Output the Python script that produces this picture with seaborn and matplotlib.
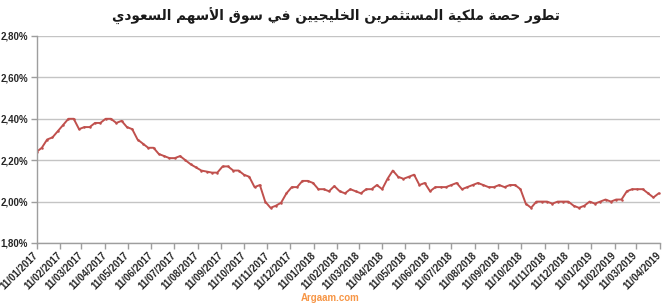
import numpy as np
import pandas as pd
import matplotlib
matplotlib.use("Agg")
import matplotlib.pyplot as plt
import matplotlib.ticker as mticker
import matplotlib.dates as mdates
import seaborn as sns

# ---------------- data ----------------
title_text = "تطور حصة ملكية المستثمرين الخليجيين في سوق الأسهم السعودي"
source_text = "Argaam.com"
start_date = "2017-01-11"
share_pct = [
    2.24, 2.26, 2.30, 2.31, 2.34, 2.37, 2.40, 2.40, 2.35, 2.36,
    2.36, 2.38, 2.38, 2.40, 2.40, 2.38, 2.39, 2.36, 2.35, 2.30,
    2.28, 2.26, 2.26, 2.23, 2.22, 2.21, 2.21, 2.22, 2.20, 2.18,
    2.165, 2.15, 2.145, 2.14, 2.14, 2.17, 2.17, 2.15, 2.15, 2.13,
    2.12, 2.07, 2.08, 2.00, 1.97, 1.98, 1.995, 2.04, 2.07, 2.07,
    2.10, 2.10, 2.09, 2.06, 2.06, 2.05, 2.075, 2.05, 2.04, 2.06,
    2.05, 2.04, 2.06, 2.06, 2.08, 2.06, 2.11, 2.15, 2.12, 2.11,
    2.12, 2.13, 2.08, 2.09, 2.05, 2.07, 2.07, 2.07, 2.08, 2.09,
    2.06, 2.07, 2.08, 2.09, 2.08, 2.07, 2.07, 2.08, 2.07, 2.08,
    2.08, 2.06, 1.99, 1.97, 2.00, 2.00, 2.00, 1.99, 2.00, 2.00,
    2.00, 1.98, 1.97, 1.98, 2.00, 1.99, 2.00, 2.01, 2.00, 2.01,
    2.01, 2.05, 2.06, 2.06, 2.06, 2.04, 2.02, 2.04,
]
tick_start = "2017-01-11"
n_ticks = 28
y_ticks = [1.80, 2.00, 2.20, 2.40, 2.60, 2.80]

# ---------------- Arabic shaping (presentation forms) ----------------
FORMS = {
    'ا': ('\uFE8D', '\uFE8E', None, None),
    'أ': ('\uFE83', '\uFE84', None, None),
    'ت': ('\uFE95', '\uFE96', '\uFE97', '\uFE98'),
    'ث': ('\uFE99', '\uFE9A', '\uFE9B', '\uFE9C'),
    'ج': ('\uFE9D', '\uFE9E', '\uFE9F', '\uFEA0'),
    'ح': ('\uFEA1', '\uFEA2', '\uFEA3', '\uFEA4'),
    'خ': ('\uFEA5', '\uFEA6', '\uFEA7', '\uFEA8'),
    'د': ('\uFEA9', '\uFEAA', None, None),
    'ر': ('\uFEAD', '\uFEAE', None, None),
    'س': ('\uFEB1', '\uFEB2', '\uFEB3', '\uFEB4'),
    'ص': ('\uFEB9', '\uFEBA', '\uFEBB', '\uFEBC'),
    'ط': ('\uFEC1', '\uFEC2', '\uFEC3', '\uFEC4'),
    'ع': ('\uFEC9', '\uFECA', '\uFECB', '\uFECC'),
    'ف': ('\uFED1', '\uFED2', '\uFED3', '\uFED4'),
    'ق': ('\uFED5', '\uFED6', '\uFED7', '\uFED8'),
    'ك': ('\uFED9', '\uFEDA', '\uFEDB', '\uFEDC'),
    'ل': ('\uFEDD', '\uFEDE', '\uFEDF', '\uFEE0'),
    'م': ('\uFEE1', '\uFEE2', '\uFEE3', '\uFEE4'),
    'ن': ('\uFEE5', '\uFEE6', '\uFEE7', '\uFEE8'),
    'ه': ('\uFEE9', '\uFEEA', '\uFEEB', '\uFEEC'),
    'و': ('\uFEED', '\uFEEE', None, None),
    'ي': ('\uFEF1', '\uFEF2', '\uFEF3', '\uFEF4'),
    'ة': ('\uFE93', '\uFE94', None, None),
}
LAM_ALEF = {'ا': ('\uFEFB', '\uFEFC'), 'أ': ('\uFEF7', '\uFEF8')}


def shape_word(word):
    units, i = [], 0
    while i < len(word):
        c = word[i]
        if c == 'ل' and i + 1 < len(word) and word[i + 1] in LAM_ALEF:
            units.append(('LA', word[i + 1]))
            i += 2
        else:
            units.append(c)
            i += 1
    out = []
    for k, u in enumerate(units):
        prev = units[k - 1] if k > 0 else None
        nxt = units[k + 1] if k + 1 < len(units) else None
        prev_joins = (prev is not None and not isinstance(prev, tuple)
                      and prev in FORMS and FORMS[prev][2] is not None)
        if isinstance(u, tuple):
            iso, fin = LAM_ALEF[u[1]]
            out.append(fin if prev_joins else iso)
            continue
        if u not in FORMS:
            out.append(u)
            continue
        f = FORMS[u]
        next_joins = f[2] is not None and nxt is not None
        if prev_joins and next_joins:
            out.append(f[3])
        elif prev_joins:
            out.append(f[1])
        elif next_joins:
            out.append(f[2])
        else:
            out.append(f[0])
    return ''.join(out)


def arabic_visual(text):
    shaped = ' '.join(shape_word(w) for w in text.split(' '))
    return shaped[::-1]


# ---------------- plot ----------------
dates = pd.date_range(start_date, periods=len(share_pct), freq="7D")
df = pd.DataFrame({"date": dates, "share": share_pct})
ticks = pd.date_range(tick_start, periods=n_ticks, freq=pd.DateOffset(months=1))

sns.set_theme(style="white")
plt.rcParams['font.family'] = ['Liberation Sans', 'DejaVu Sans']

fig = plt.figure(figsize=(6.65, 3.07), dpi=100)
ax = fig.add_axes([36.5 / 665, 1 - 243 / 307, (659.5 - 36.5) / 665, (243 - 36) / 307])

sns.lineplot(data=df, x="date", y="share", ax=ax, color="#C0504D",
             linewidth=1.4, marker="o", markersize=1.8, markeredgewidth=0)

ax.set_ylim(1.80, 2.80)
ax.set_yticks(y_ticks)
ax.yaxis.set_major_formatter(mticker.FuncFormatter(
    lambda v, p: f"{v:.2f}%".replace('.', ',')))
ax.set_xlim(ticks[0], ticks[-1])
ax.set_xticks(ticks)
ax.xaxis.set_major_formatter(mdates.DateFormatter('%d/%m/%Y'))

ax.grid(axis='y', color='#C4C4C4', linewidth=1.0)
ax.grid(axis='x', visible=False)
for s in ['top', 'right']:
    ax.spines[s].set_visible(False)
for s in ['left', 'bottom']:
    ax.spines[s].set_color('#9E9E9E')
    ax.spines[s].set_linewidth(1.0)

ax.tick_params(axis='x', which='major', direction='out', length=4, width=1,
               color='#9E9E9E', labelsize=7, labelcolor='#262626', pad=4,
               bottom=True)
ax.tick_params(axis='y', which='major', direction='out', length=4, width=1,
               color='#9E9E9E', labelsize=7, labelcolor='#262626', pad=2,
               left=True)
for lbl in ax.get_xticklabels():
    lbl.set_rotation(45)
    lbl.set_ha('right')
    lbl.set_va('center')
    lbl.set_rotation_mode('anchor')
    lbl.set_fontweight('bold')
for lbl in ax.get_yticklabels():
    lbl.set_fontweight('bold')

ax.set_xlabel("")
ax.set_ylabel("")

fig.text(0.505, 1 - 16 / 307, arabic_visual(title_text), ha='center', va='center',
         fontsize=9.8, fontweight='bold', color='#1A1A1A',
         family=['DejaVu Sans'])
fig.text(0.497, 1 - 298 / 307, source_text, ha='center', va='center',
         fontsize=7, fontweight='bold', color='#F79646')

fig.savefig("out.png", dpi=100)
